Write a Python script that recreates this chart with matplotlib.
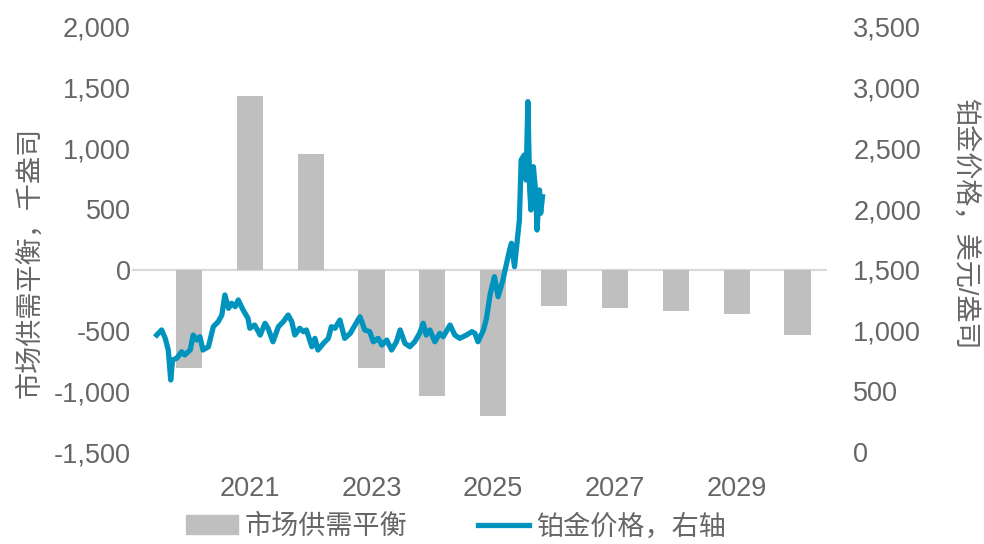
import matplotlib
matplotlib.use("Agg")
import matplotlib.pyplot as plt
from matplotlib.ticker import FuncFormatter, MultipleLocator
from matplotlib.patches import Patch
from matplotlib.lines import Line2D

plt.rcParams['font.family'] = ['Liberation Sans', 'Noto Sans CJK SC', 'DejaVu Sans']

# 市场供需平衡 (千盎司), 年度
years = [2020, 2021, 2022, 2023, 2024, 2025, 2026, 2027, 2028, 2029, 2030]
balance = [-810, 1430, 950, -810, -1040, -1200, -300, -315, -335, -360, -540]

# 铂金价格 (美元/盎司), 按小数年读取
price_t = [2019.97, 2020.05, 2020.11, 2020.16, 2020.20, 2020.23, 2020.30, 2020.38,
           2020.43, 2020.52, 2020.57, 2020.63, 2020.68, 2020.73, 2020.82, 2020.90,
           2020.98, 2021.04, 2021.09, 2021.15, 2021.20, 2021.26, 2021.31, 2021.39,
           2021.47, 2021.50, 2021.58, 2021.67, 2021.75, 2021.80, 2021.88, 2021.97,
           2022.05, 2022.13, 2022.19, 2022.24, 2022.32, 2022.38, 2022.43, 2022.52,
           2022.57, 2022.62, 2022.71, 2022.79, 2022.84, 2022.90, 2022.98, 2023.06,
           2023.15, 2023.23, 2023.31, 2023.39, 2023.47, 2023.53, 2023.61, 2023.67,
           2023.75, 2023.83, 2023.91, 2023.97, 2024.05, 2024.13, 2024.21, 2024.29,
           2024.35, 2024.40, 2024.46, 2024.54, 2024.62, 2024.68, 2024.79, 2024.87,
           2024.95, 2025.06, 2025.15, 2025.20, 2025.25, 2025.34, 2025.39, 2025.45,
           2025.52, 2025.58, 2025.66, 2025.72, 2025.77, 2025.80, 2025.85, 2025.93,
           2025.96, 2026.01, 2026.04, 2026.07, 2026.10, 2026.12, 2026.16, 2026.20,
           2026.22, 2026.26, 2026.28, 2026.31]
price = [963, 1005, 936, 840, 593, 758, 772, 826,
         799, 840, 963, 922, 950, 840, 867, 1032,
         1073, 1128, 1293, 1183, 1225, 1197, 1252, 1169,
         1101, 1019, 1046, 963, 1060, 1019, 908, 1032,
         1073, 1128, 1073, 963, 1019, 991, 1005, 867,
         936, 840, 895, 936, 1032, 1019, 1087, 936,
         977, 1046, 1114, 1005, 991, 908, 936, 881,
         922, 840, 908, 1005, 895, 867, 908, 977,
         1060, 963, 1005, 908, 977, 950, 1046, 963,
         936, 963, 991, 977, 908, 1005, 1101, 1300,
         1444, 1279, 1416, 1554, 1664, 1719, 1526, 1910,
         2405, 2446, 2240, 2885, 2158, 1993, 2350, 2130,
         1828, 2158, 1966, 2102]

tick_years = [2021, 2023, 2025, 2027, 2029]

bar_color = '#BFBFBF'
line_color = '#0093BE'
text_color = '#666666'

fig = plt.figure(figsize=(9.84, 5.44), dpi=100)
ax1 = fig.add_axes([0.1341, 0.1691, 0.7063, 0.7813])
ax2 = ax1.twinx()

bar_x = [y + 0.5 for y in years]
ax1.bar(bar_x, balance, width=0.43, color=bar_color, zorder=2)
ax1.axhline(0, color='#D9D9D9', lw=1.6, zorder=1)
ax2.plot(price_t, price, color=line_color, lw=3.8, solid_joinstyle='round')

ax1.set_xlim(2019.563, 2030.985)
ax1.set_ylim(-1500, 2000)
ax2.set_ylim(0, 3500)
ax1.yaxis.set_major_locator(MultipleLocator(500))
ax2.yaxis.set_major_locator(MultipleLocator(500))
fmt = FuncFormatter(lambda v, p: f'{v:,.0f}')
ax1.yaxis.set_major_formatter(fmt)
ax2.yaxis.set_major_formatter(fmt)

ax1.set_xticks([y + 0.5 for y in tick_years])
ax1.set_xticklabels([str(y) for y in tick_years])

for ax in (ax1, ax2):
    for s in ax.spines.values():
        s.set_visible(False)
    ax.tick_params(length=0, labelsize=19.5, labelcolor=text_color)
ax1.tick_params(axis='y', pad=1)
ax1.tick_params(axis='x', pad=17)
ax2.tick_params(axis='y', pad=19)

fig.text(30 / 984, 1 - 262 / 544, '市场供需平衡，千盎司', rotation=90,
         ha='center', va='center', fontsize=19.5, color=text_color)
fig.text(965 / 984, 1 - 224 / 544, '铂金价格，美元/盎司', rotation=270,
         ha='center', va='center', fontsize=19.5, color=text_color)

handles = [Patch(color=bar_color), Line2D([0], [0], color=line_color, lw=3.8)]
fig.legend(handles, ['市场供需平衡', '铂金价格，右轴'], loc='center',
           bbox_to_anchor=(456 / 984, 1 - 527 / 544), ncol=2, frameon=False,
           fontsize=19.5, labelcolor=text_color, handlelength=1.9,
           handletextpad=0.25, columnspacing=2.6, borderpad=0, borderaxespad=0)

fig.savefig('out.png', dpi=100)
